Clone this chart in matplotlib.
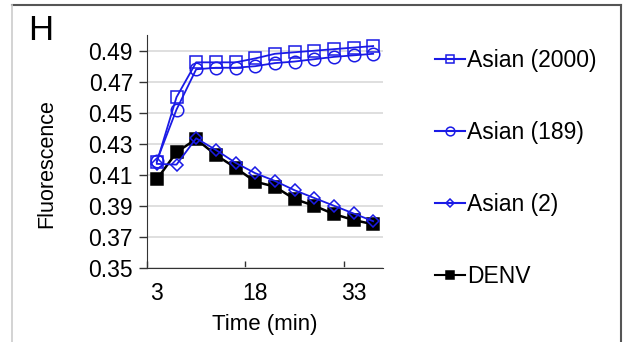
import matplotlib
matplotlib.use('Agg')
import matplotlib.pyplot as plt
from matplotlib.lines import Line2D

plt.rcParams['font.family'] = ['Liberation Sans', 'DejaVu Sans']

time_min = [3, 6, 9, 12, 15, 18, 21, 24, 27, 30, 33, 36]
asian_2000 = [0.418, 0.460, 0.4825, 0.4825, 0.4825, 0.485, 0.488, 0.489, 0.490, 0.491, 0.492, 0.493]
asian_189 = [0.419, 0.452, 0.478, 0.479, 0.479, 0.480, 0.482, 0.483, 0.4845, 0.486, 0.487, 0.488]
asian_2 = [0.417, 0.4165, 0.4335, 0.426, 0.4177, 0.411, 0.406, 0.400, 0.395, 0.390, 0.385, 0.380]
denv = [0.407, 0.4245, 0.433, 0.4227, 0.4145, 0.4055, 0.4023, 0.3943, 0.390, 0.3846, 0.3808, 0.378]
x_labels = ['3', '18', '33']
y_ticks = [0.35, 0.37, 0.39, 0.41, 0.43, 0.45, 0.47, 0.49]

blue = '#1a1ae6'
fig = plt.figure(figsize=(6.34, 3.42), dpi=100)
ax = fig.add_axes([147/634, 1-267.7/342, (383-147)/634, (267.7-35.2)/342])

series = [
    ('Asian (2000)', asian_2000, 's', blue, 'none'),
    ('Asian (189)', asian_189, 'o', blue, 'none'),
    ('Asian (2)', asian_2, 'D', blue, 'none'),
    ('DENV', denv, 's', 'black', 'black'),
]
sizes = {'s': 9, 'o': 9, 'D': 6}
handles = []
for name, vals, mk, col, fc in series:
    ax.plot(time_min, vals, color=col, lw=1.8 if name == 'DENV' else 1.3, marker=mk,
            ms=sizes[mk], mfc=fc, mec=col, mew=1.1, zorder=3 if name == 'DENV' else 4)
    handles.append(Line2D([], [], color=col, lw=1.5, marker=mk, ms=sizes[mk]*0.7,
                          mfc=fc, mec=col, mew=1.1))

ax.set_xlim(1.5, 37.5)
ax.set_ylim(0.35, 0.50)
ax.set_xticks([1.5, 16.5, 31.5])
ax.set_xticklabels([])
ax.set_xticks([3, 18, 33], minor=True)
ax.set_xticklabels(x_labels, minor=True)
ax.tick_params(axis='x', which='major', direction='in', length=5, width=1, color='#333333')
ax.tick_params(axis='x', which='minor', length=0, labelsize=16.5, pad=10)
ax.set_yticks(y_ticks)
ax.set_yticklabels(['%.2f' % v for v in y_ticks])
ax.tick_params(axis='y', direction='out', length=6, width=1, labelsize=16.5, pad=4,
               color='#333333')
ax.yaxis.grid(True, color='#d9d9d9', lw=1.2)
ax.set_axisbelow(True)
for s in ['top', 'right']:
    ax.spines[s].set_visible(False)
ax.spines['left'].set_color('#333333')
ax.spines['bottom'].set_color('#333333')

ax.set_ylabel('Fluorescence', fontsize=15.5)
ax.yaxis.set_label_coords(-0.38, 0.45)
ax.set_xlabel('Time (min)', fontsize=16, labelpad=7)

fig.legend(handles, [s[0] for s in series], loc='upper left', bbox_to_anchor=(426/634, 1-40/342),
           frameon=False, fontsize=16.5, handlelength=1.3, handletextpad=0.1,
           labelspacing=2.14, borderaxespad=0)

fig.text(28/634, 1-30/342, 'H', fontsize=25, va='center', ha='left')

fig.add_artist(Line2D([12/634, 621/634], [1-4.5/342, 1-4.5/342], color='#555555', lw=1.5))
fig.add_artist(Line2D([12/634, 12/634], [0, 1-4.5/342], color='#cccccc', lw=1.2))
fig.add_artist(Line2D([621/634, 621/634], [0, 1-4.5/342], color='#555555', lw=1.5))

fig.savefig('out.png', dpi=100)
